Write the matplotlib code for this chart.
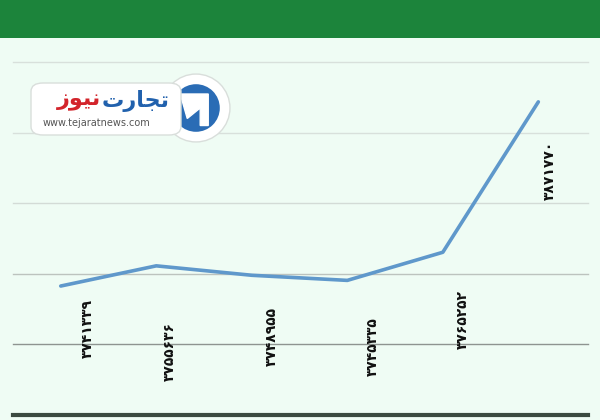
import matplotlib.pyplot as plt
from matplotlib.patches import Rectangle, FancyBboxPatch, Circle

# values
values = [3741339, 3755636, 3748955, 3745335, 3765252, 3871770]
labels = ["۳۷۴۱۳۳۹", "۳۷۵۵۶۳۶", "۳۷۴۸۹۵۵", "۳۷۴۵۳۳۵", "۳۷۶۵۲۵۲", "۳۸۷۱۷۷۰"]
grid_values = [3700000, 3750000, 3800000, 3850000, 3900000]

# label offsets from each point, pixels (dx, dy)
label_offsets = [(27, -42), (14, -86), (20, -61), (26, -66), (20, -67), (12, -68)]

bg = "#effcf4"
fig = plt.figure(figsize=(6, 4.2), dpi=100, facecolor=bg)

# green header band
fig.patches.append(Rectangle((0, 382 / 420), 1, 38 / 420, transform=fig.transFigure,
                             facecolor="#1c843b", edgecolor="none", zorder=0))

ax = fig.add_axes([13 / 600, 5 / 420, 575 / 600, 353 / 420])
ax.set_facecolor(bg)
x = list(range(len(values)))

ax.set_xlim(-0.5, 5.52)
ax.set_ylim(3650000, 3900000)

grid_colors = ["#8e9490", "#bcc3be", "#d3dbd6", "#d8e0db", "#d8e0db"]
for g, c in zip(grid_values, grid_colors):
    ax.axhline(g, color=c, lw=1.0, zorder=1, clip_on=False)

for s in ["top", "left", "right"]:
    ax.spines[s].set_visible(False)
ax.spines["bottom"].set_color("#3b4a40")
ax.spines["bottom"].set_linewidth(3)
ax.set_xticks([])
ax.set_yticks([])

ax.plot(x, values, color="#5f98cb", lw=2.6, solid_capstyle="round",
        solid_joinstyle="round", zorder=3)

for xi, v, lab, (dx, dy) in zip(x, values, labels, label_offsets):
    ax.annotate(lab, (xi, v), xytext=(dx, dy), textcoords="offset pixels",
                rotation=90, ha="center", va="center", fontsize=10,
                fontweight="bold", color="#111111", family=["DejaVu Sans"])

# logo badge
fig.patches.append(FancyBboxPatch((31 / 600, 285 / 420), 150 / 600, 52 / 420,
                                  boxstyle="round,pad=0,rounding_size=0.02",
                                  transform=fig.transFigure, facecolor="white",
                                  edgecolor="#d9dedb", lw=1.0, zorder=4))
ax_logo = fig.add_axes([161 / 600, 277 / 420, 70 / 600, 70 / 420])
ax_logo.set_xlim(-1, 1)
ax_logo.set_ylim(-1, 1)
ax_logo.set_aspect("equal")
ax_logo.axis("off")
ax_logo.add_patch(Circle((0, 0), 0.97, facecolor="white", edgecolor="#d9dedb", lw=1))
ax_logo.add_patch(Circle((0, 0), 0.68, facecolor="#2a6cb5", edgecolor="none"))
ax_logo.fill([-0.45, 0.35, 0.35, 0.12, 0.12, -0.25], [0.4, 0.4, -0.5, -0.5, 0.0, -0.3],
             color="white")
fig.text(170 / 600, 319 / 420, "\uFE95\uFEAD\uFE8E\uFEA0\uFE97", color="#2161ad",
         fontsize=16, fontweight="bold", ha="right", va="center",
         family=["DejaVu Sans"], zorder=5)
fig.text(101 / 600, 319 / 420, "\uFEAF\uFEEE\uFEF4\uFEE7", color="#d3242b",
         fontsize=16, fontweight="bold", ha="right", va="center",
         family=["DejaVu Sans"], zorder=5)
fig.text(96 / 600, 297 / 420, "www.tejaratnews.com", color="#555555",
         fontsize=7, ha="center", va="center", zorder=5)

fig.savefig("out.png", dpi=100, facecolor=bg)
